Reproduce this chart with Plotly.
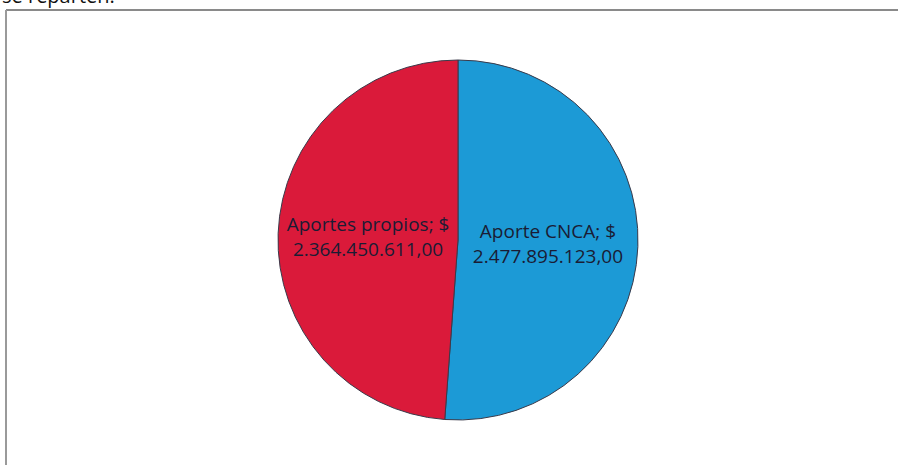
import plotly.graph_objects as go

labels = ["Aporte CNCA", "Aportes propios"]
values = [2477895123.00, 2364450611.00]
value_text = ["2.477.895.123,00", "2.364.450.611,00"]
colors = ["#1C9AD6", "#DA1A3A"]

W, H = 898, 465
cx, cy, r = 458, 240, 180

texts = [f"{l}; $<br>{v}" for l, v in zip(labels, value_text)]

fig = go.Figure(go.Pie(
    labels=labels,
    values=values,
    text=texts,
    textinfo="text",
    textposition="inside",
    insidetextorientation="horizontal",
    sort=False,
    direction="clockwise",
    rotation=0,
    marker=dict(colors=colors, line=dict(color="#3a3a4a", width=1)),
    textfont=dict(family="Open Sans", size=19, color="#1a1c34"),
    showlegend=False,
    hoverinfo="label+value",
    domain=dict(x=[(cx - r) / W, (cx + r) / W], y=[1 - (cy + r) / H, 1 - (cy - r) / H]),
))

# chart frame (top and left edges visible in the scan)
fig.add_shape(type="line", xref="paper", yref="paper",
              x0=6 / W, x1=1.0, y0=1 - 10 / H, y1=1 - 10 / H,
              line=dict(color="#8a8a8a", width=2))
fig.add_shape(type="line", xref="paper", yref="paper",
              x0=6 / W, x1=6 / W, y0=0, y1=1 - 10 / H,
              line=dict(color="#9a9a9a", width=2))

# cut-off text line above the chart
fig.add_annotation(text="se reparten.", xref="paper", yref="paper",
                   x=0.0, y=1 + 20 / H, xanchor="left", yanchor="top",
                   showarrow=False, font=dict(family="Open Sans", size=20, color="#111"))

fig.update_layout(
    width=W, height=H,
    margin=dict(l=0, r=0, t=0, b=0),
    paper_bgcolor="white",
    plot_bgcolor="white",
)

fig.write_html("out.html", config={"displayModeBar": False},
               post_script="document.body.style.margin='0';document.body.style.padding='0';")
